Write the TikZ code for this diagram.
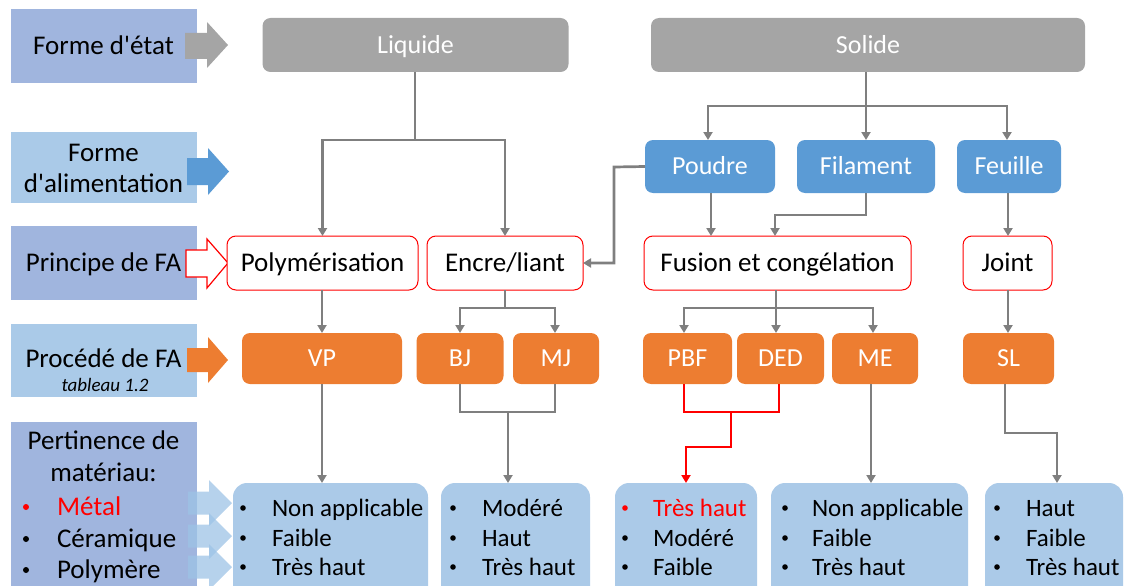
\documentclass[tikz,border=0pt]{standalone}
\usepackage{fontspec}
\setmainfont{Carlito}
\usetikzlibrary{arrows.meta}
\definecolor{labdark}{HTML}{A0B5DE}
\definecolor{lablight}{HTML}{AACAE8}
\definecolor{grayfill}{HTML}{A5A5A5}
\definecolor{bluefill}{HTML}{5B9BD5}
\definecolor{orangefill}{HTML}{ED7D31}
\definecolor{botfill}{HTML}{ABCAE8}
\definecolor{conn}{HTML}{7F7F7F}
\definecolor{redc}{HTML}{FF0000}
\definecolor{arrowblue}{HTML}{9DC3E6}
\begin{document}
\begin{tikzpicture}[x=1pt,y=-1pt,
  font=\fontsize{25}{30}\selectfont,
  every node/.style={inner sep=0pt,outer sep=0pt},
  one/.style={text height=#1,text depth=0pt},
  lab/.style={rectangle,draw=white,line width=0.5pt,align=center,font=\fontsize{27}{32}\selectfont},
  grayb/.style={one=16.6pt,rectangle,rounded corners=8pt,fill=grayfill,text=white,font=\fontsize{26}{30}\selectfont},
  blueb/.style={one=16.6pt,rectangle,rounded corners=8pt,fill=bluefill,text=white,font=\fontsize{26}{30}\selectfont},
  redb/.style={one=17.2pt,rectangle,rounded corners=9pt,fill=white,draw=redc,line width=1pt,font=\fontsize{27}{30}\selectfont},
  orb/.style={one=16.6pt,rectangle,rounded corners=8pt,fill=orangefill,text=white,font=\fontsize{26}{30}\selectfont},
  botb/.style={rectangle,rounded corners=14pt,fill=botfill},
  cn/.style={draw=conn,line width=2.7pt},
  cna/.style={cn,-{Triangle[length=8pt,width=9pt]}},
  rcn/.style={draw=redc,line width=2.7pt},
  rcna/.style={rcn,-{Triangle[length=8pt,width=9pt]}},
  bl/.style={one=16pt,anchor=west},
  ll/.style={one=17.2pt,font=\fontsize{27}{32}\selectfont},
]
\useasboundingbox (0,0) rectangle (1127,586);
\begin{scope}
\clip (0,0) rectangle (1127,586);
% left labels
\node[lab,fill=labdark,minimum width=187pt,minimum height=75pt] (l1) at (103.5,45.5) {};
\node[ll] (l1a) at (103.5,46) {Forme d\textquotesingle état};
\node[lab,fill=lablight,minimum width=187pt,minimum height=72pt] (l2) at (103.5,167) {};
\node[ll] (l2a) at (103.5,153) {Forme};
\node[ll] (l2b) at (103.5,184) {d\textquotesingle alimentation};
\node[lab,fill=labdark,minimum width=187pt,minimum height=75pt] (l3) at (103.5,262.5) {};
\node[ll] (l3a) at (103.5,263) {Principe de FA};
\node[lab,fill=lablight,minimum width=187pt,minimum height=74pt] (l4) at (103.5,360) {};
\node[ll] (l4a) at (103.5,359) {Procédé de FA};
\node[one=12pt,font=\fontsize{19}{22}\selectfont\itshape] (l4b) at (105,385) {tableau 1.2};
\node[lab,fill=labdark,minimum width=187pt,minimum height=180pt] (l5) at (103.5,511) {};
\node[ll] (l5a) at (103.5,441) {Pertinence de};
\node[ll] (l5b) at (103.5,473) {matériau:};
\node[ll,anchor=west,text=redc] (m1) at (57,507) {Métal};
\node[ll,anchor=west] (m2) at (57,539) {Céramique};
\node[ll,anchor=west] (m3) at (57,570) {Polymère};
\fill[redc] (26,507) circle (3pt);
\fill[black] (26,539) circle (3pt);
\fill[black] (26,570) circle (3pt);
% left block arrows
\fill[grayfill] (185,33) -- (207,33) -- (207,22) -- (228,45) -- (207,68) -- (207,59) -- (185,59) -- cycle;
\fill[bluefill] (187,158) -- (208,158) -- (208,148) -- (229,171.5) -- (208,195) -- (208,185) -- (187,185) -- cycle;
\filldraw[fill=white,draw=redc,line width=1.2pt] (186,250) -- (207,250) -- (207,239) -- (228,263) -- (207,288) -- (207,277) -- (186,277) -- cycle;
\fill[orangefill] (187,348) -- (208,348) -- (208,337) -- (228,360) -- (208,383) -- (208,372) -- (187,372) -- cycle;
\foreach \yy in {503,536,567}{
  \fill[arrowblue,opacity=0.75] (188,\yy-11.5) -- (209,\yy-11.5) -- (209,\yy-23) -- (232,\yy) -- (209,\yy+23) -- (209,\yy+11.5) -- (188,\yy+11.5) -- cycle;
}
% top row
\node[grayb,minimum width=306pt,minimum height=54pt] (liq) at (415.5,45) {Liquide};
\node[grayb,minimum width=434pt,minimum height=54pt] (sol) at (868,45) {Solide};
% feed row
\node[blueb,minimum width=130pt,minimum height=53pt] (poudre) at (710,166.5) {Poudre};
\node[blueb,minimum width=138pt,minimum height=53pt] (fil) at (866,166.5) {Filament};
\node[blueb,minimum width=104pt,minimum height=53pt] (feu) at (1009,166.5) {Feuille};
% principle row
\node[redb,minimum width=191pt,minimum height=54pt] (poly) at (322.5,263) {Polymérisation};
\node[redb,minimum width=156pt,minimum height=54pt] (encre) at (505,263) {Encre/liant};
\node[redb,minimum width=267pt,minimum height=54pt] (fus) at (777.5,263) {Fusion et congélation};
\node[redb,minimum width=89pt,minimum height=54pt] (joint) at (1007.5,263) {Joint};
% process row
\node[orb,minimum width=160pt,minimum height=51pt] (vp) at (322,358.5) {VP};
\node[orb,minimum width=87pt,minimum height=51pt] (bj) at (460,358.5) {BJ};
\node[orb,minimum width=86pt,minimum height=51pt] (mj) at (556,358.5) {MJ};
\node[orb,minimum width=89pt,minimum height=51pt] (pbf) at (687.5,358.5) {PBF};
\node[orb,minimum width=87pt,minimum height=51pt] (ded) at (780.5,358.5) {DED};
\node[orb,minimum width=86pt,minimum height=51pt] (me) at (875,358.5) {ME};
\node[orb,minimum width=91pt,minimum height=51pt] (sl) at (1008.5,358.5) {SL};
% bottom boxes
\node[botb,minimum width=195pt,minimum height=125pt] (b1) at (330.5,545.5) {};
\node[botb,minimum width=149pt,minimum height=125pt] (b2) at (515.5,545.5) {};
\node[botb,minimum width=142pt,minimum height=125pt] (b3) at (686,545.5) {};
\node[botb,minimum width=197pt,minimum height=125pt] (b4) at (869.5,545.5) {};
\node[botb,minimum width=138pt,minimum height=125pt] (b5) at (1054,545.5) {};
% bottom texts
\foreach \bx/\tx/\la/\lb/\lc in {243/272/Non applicable/Faible/Très haut, 453/482/Modéré/Haut/Très haut, 785/812/Non applicable/Faible/Très haut, 997/1026/Haut/Faible/Très haut}{
  \fill (\bx,508) circle (2.8pt);
  \fill (\bx,538) circle (2.8pt);
  \fill (\bx,567) circle (2.8pt);
  \node[bl] at (\tx,508) {\la};
  \node[bl] at (\tx,538) {\lb};
  \node[bl] at (\tx,567) {\lc};
}
\fill[redc] (625,508) circle (2.8pt);
\fill (625,538) circle (2.8pt);
\fill (625,567) circle (2.8pt);
\node[bl,text=redc] (t3a) at (653,508) {Très haut};
\node[bl] (t3b) at (653,538) {Modéré};
\node[bl] (t3c) at (653,567) {Faible};
\end{scope}
% connectors: liquid
\coordinate (lq) at (415,140);
\draw[cn] (liq.south -| lq) -- (lq);
\draw[cna] (lq) -| (poly.north);
\draw[cna] (lq) -| (encre.north);
% solid
\coordinate (sq) at (866,106);
\draw[cna] (sol.south -| sq) -- (fil.north);
\draw[cna] (sq) -| (poudre.north -| 708,0);
\draw[cna] (sq) -| (feu.north -| 1007,0);
% poudre
\coordinate (pl) at (614,167);
\draw[cna] (poudre.west) -- (pl) |- (encre.east);
\draw[cna] (poudre.south -| 711,0) -- (fus.north -| 711,0);
\coordinate (fl) at (775,215);
\draw[cna] (fil.south) |- (fl) -- (fus.north -| fl);
\draw[cna] (feu.south -| 1008,0) -- (joint.north -| 1008,0);
% principle to process
\draw[cna] (poly.south -| vp.north) -- (vp.north);
\coordinate (eq) at (505,308);
\draw[cn] (encre.south) -- (eq);
\draw[cna] (eq) -| (bj.north);
\draw[cna] (eq) -| (mj.north -| 555,0);
\coordinate (fq) at (776,308);
\draw[cn] (fus.south -| fq) -- (fq);
\draw[cna] (fq) -| (pbf.north -| 684,0);
\draw[cna] (fq) -- (ded.north -| fq);
\draw[cna] (fq) -| (me.north -| 873,0);
\draw[cna] (joint.south -| 1008,0) -- (sl.north -| 1008,0);
% process to relevance
\draw[cna] (vp.south) -- (b1.north -| vp.south);
\coordinate (bm) at (508,412);
\draw[cn] (bj.south) |- (bm) -| (mj.south -| 555,0);
\draw[cna] (bm) -- (b2.north -| bm);
\coordinate (rm) at (731,412);
\coordinate (rd) at (686,447);
\draw[rcn] (pbf.south -| 684,0) |- (rm) -| (ded.south -| 779,0);
\draw[rcna] (rm) |- (rd) -- (b3.north -| rd);
\draw[cna] (me.south -| 871,0) -- (b4.north -| 871,0);
\coordinate (sr) at (1057,433);
\draw[cna] (sl.south -| 1005,0) |- (sr) -- (b5.north -| sr);
\end{tikzpicture}
\end{document}
